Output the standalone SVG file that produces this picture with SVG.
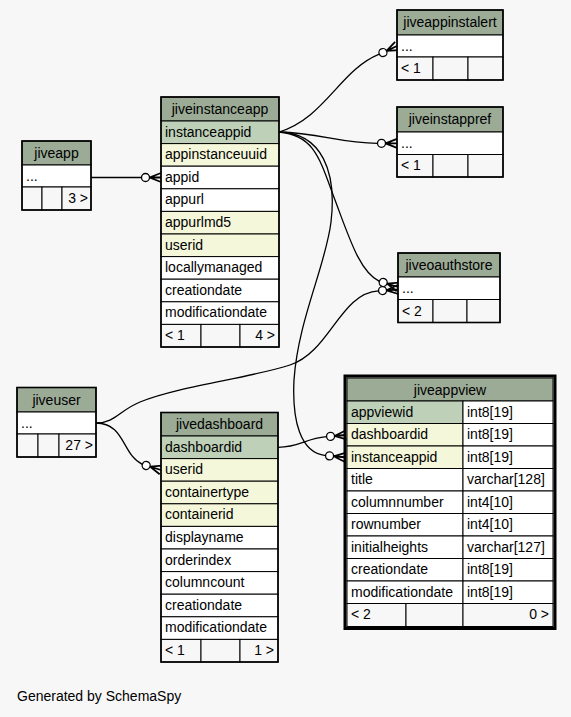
<svg xmlns="http://www.w3.org/2000/svg" xmlns:xlink="http://www.w3.org/1999/xlink" width="571" height="717" viewBox="0 0 571 717">
<style>
.hd{fill:#9bab96;stroke:#000;stroke-width:1}
.pk{fill:#bed1b8;stroke:#000;stroke-width:1}
.fk{fill:#f4f7da;stroke:#000;stroke-width:1}
.wt{fill:#ffffff;stroke:#000;stroke-width:1}
.ft{fill:#f7f7f7;stroke:#000;stroke-width:1}
.ob{fill:none;stroke:#000;stroke-width:1.6}
.t{font-family:"Liberation Sans",Helvetica,Arial,sans-serif;font-size:14px;fill:#000}
.c{text-anchor:middle}
.r{text-anchor:end}
.edge{fill:none;stroke:#000;stroke-width:1.3}
</style>
<defs>
<g id="cf">
<circle cx="-15.5" cy="0" r="4" fill="#fff" stroke="#000" stroke-width="1.3"/>
<path d="M-11.5,0 L0,-4.5 M-11.5,0 L0,4.5 M-11.5,0 L0,0" fill="none" stroke="#000" stroke-width="1.8"/>
</g>
</defs>
<rect x="0" y="0" width="571" height="717" fill="#f7f7f7"/>

<g id="edges">
<path class="edge" d="M91,177.5 L141.5,177.5"/>
<use xlink:href="#cf" href="#cf" transform="translate(161,177.5)"/>
<path class="edge" d="M279,132 C325,118 340,70 379.3,54.2"/>
<use xlink:href="#cf" href="#cf" transform="translate(397,46) rotate(-25)"/>
<path class="edge" d="M279,132 C320,133 340,143.3 377.5,143.3"/>
<use xlink:href="#cf" href="#cf" transform="translate(397,143.3)"/>
<path class="edge" d="M279,132 C315,135 320,160 335,200 C350,240 360,272 379.36,281.3"/>
<use xlink:href="#cf" href="#cf" transform="translate(398,287) rotate(17)"/>
<path class="edge" d="M96,423 C115,423 120,410 140,402 C180,386 250,378 290,365 C330,352 340,293 378.55,290.86"/>
<use xlink:href="#cf" href="#cf" transform="translate(398,289.5) rotate(-4)"/>
<path class="edge" d="M96,423 C125,423 122,455 142.36,464.3"/>
<use xlink:href="#cf" href="#cf" transform="translate(161,470) rotate(17)"/>
<path class="edge" d="M278,447.3 C300,447.3 305,438.5 326.58,436.7"/>
<use xlink:href="#cf" href="#cf" transform="translate(346,435) rotate(-5)"/>
<path class="edge" d="M279,132 C322,133 337,172 331,222 C326,265 298,320 294,380 C292,420 300,453 325.58,455.55"/>
<use xlink:href="#cf" href="#cf" transform="translate(345,457.25) rotate(5)"/>
</g>

<g id="jiveapp">
<rect class="hd" x="22" y="141" width="69" height="24"/>
<rect class="wt" x="22" y="165" width="69" height="22"/>
<rect class="ft" x="22" y="187" width="20" height="23"/>
<rect class="ft" x="42" y="187" width="20" height="23"/>
<rect class="ft" x="62" y="187" width="29" height="23"/>
<rect class="ob" x="22" y="141" width="69" height="69"/>
<text class="t c" x="56.5" y="157.5">jiveapp</text>
<text class="t" x="26" y="180.5">...</text>
<text class="t r" x="88" y="203">3 &gt;</text>
</g>

<g id="jiveinstanceapp">
<rect class="hd" x="161" y="97" width="118" height="24"/>
<rect class="pk" x="161" y="121" width="118" height="22.6"/>
<rect class="fk" x="161" y="143.6" width="118" height="22.6"/>
<rect class="wt" x="161" y="166.2" width="118" height="22.6"/>
<rect class="wt" x="161" y="188.8" width="118" height="22.6"/>
<rect class="fk" x="161" y="211.4" width="118" height="22.6"/>
<rect class="fk" x="161" y="234" width="118" height="22.6"/>
<rect class="wt" x="161" y="256.6" width="118" height="22.6"/>
<rect class="wt" x="161" y="279.2" width="118" height="22.6"/>
<rect class="wt" x="161" y="301.8" width="118" height="22.6"/>
<rect class="ft" x="161" y="324.4" width="40" height="22.6"/>
<rect class="ft" x="201" y="324.4" width="39" height="22.6"/>
<rect class="ft" x="240" y="324.4" width="39" height="22.6"/>
<rect class="ob" x="161" y="97" width="118" height="250"/>
<text class="t c" x="220" y="113.5">jiveinstanceapp</text>
<text class="t" x="165" y="136.5">instanceappid</text>
<text class="t" x="165" y="159.1">appinstanceuuid</text>
<text class="t" x="165" y="181.7">appid</text>
<text class="t" x="165" y="204.3">appurl</text>
<text class="t" x="165" y="226.9">appurlmd5</text>
<text class="t" x="165" y="249.5">userid</text>
<text class="t" x="165" y="272.1">locallymanaged</text>
<text class="t" x="165" y="294.7">creationdate</text>
<text class="t" x="165" y="317.3">modificationdate</text>
<text class="t" x="165" y="339.9">&lt; 1</text>
<text class="t r" x="275" y="339.9">4 &gt;</text>
</g>

<g id="jiveappinstalert">
<rect class="hd" x="397" y="10" width="106" height="25"/>
<rect class="wt" x="397" y="35" width="106" height="22"/>
<rect class="ft" x="397" y="57" width="36" height="23"/>
<rect class="ft" x="433" y="57" width="35" height="23"/>
<rect class="ft" x="468" y="57" width="35" height="23"/>
<rect class="ob" x="397" y="10" width="106" height="70"/>
<text class="t c" x="450" y="27">jiveappinstalert</text>
<text class="t" x="401" y="50.5">...</text>
<text class="t" x="401" y="73">&lt; 1</text>
</g>

<g id="jiveinstappref">
<rect class="hd" x="397" y="107" width="106" height="25"/>
<rect class="wt" x="397" y="132" width="106" height="22.5"/>
<rect class="ft" x="397" y="154.5" width="36" height="22.5"/>
<rect class="ft" x="433" y="154.5" width="35" height="22.5"/>
<rect class="ft" x="468" y="154.5" width="35" height="22.5"/>
<rect class="ob" x="397" y="107" width="106" height="70"/>
<text class="t c" x="450" y="124">jiveinstappref</text>
<text class="t" x="401" y="147.5">...</text>
<text class="t" x="401" y="170">&lt; 1</text>
</g>

<g id="jiveoauthstore">
<rect class="hd" x="398" y="253" width="102" height="24"/>
<rect class="wt" x="398" y="277" width="102" height="22.5"/>
<rect class="ft" x="398" y="299.5" width="35" height="23"/>
<rect class="ft" x="433" y="299.5" width="34" height="23"/>
<rect class="ft" x="467" y="299.5" width="33" height="23"/>
<rect class="ob" x="398" y="253" width="102" height="69.5"/>
<text class="t c" x="449" y="270">jiveoauthstore</text>
<text class="t" x="402" y="292.5">...</text>
<text class="t" x="402" y="315.5">&lt; 2</text>
</g>

<g id="jiveuser">
<rect class="hd" x="17" y="387.5" width="79" height="24.5"/>
<rect class="wt" x="17" y="412" width="79" height="22"/>
<rect class="ft" x="17" y="434" width="21" height="23"/>
<rect class="ft" x="38" y="434" width="21" height="23"/>
<rect class="ft" x="59" y="434" width="37" height="23"/>
<rect class="ob" x="17" y="387.5" width="79" height="69.5"/>
<text class="t c" x="56.5" y="404.5">jiveuser</text>
<text class="t" x="21" y="427.5">...</text>
<text class="t r" x="93" y="450">27 &gt;</text>
</g>

<g id="jivedashboard">
<rect class="hd" x="161" y="412.5" width="117" height="23.5"/>
<rect class="pk" x="161" y="436" width="117" height="22.6"/>
<rect class="fk" x="161" y="458.6" width="117" height="22.6"/>
<rect class="fk" x="161" y="481.2" width="117" height="22.6"/>
<rect class="fk" x="161" y="503.8" width="117" height="22.6"/>
<rect class="wt" x="161" y="526.4" width="117" height="22.6"/>
<rect class="wt" x="161" y="549" width="117" height="22.6"/>
<rect class="wt" x="161" y="571.6" width="117" height="22.6"/>
<rect class="wt" x="161" y="594.2" width="117" height="22.6"/>
<rect class="wt" x="161" y="616.8" width="117" height="22.6"/>
<rect class="ft" x="161" y="639.4" width="40" height="22.6"/>
<rect class="ft" x="201" y="639.4" width="39" height="22.6"/>
<rect class="ft" x="240" y="639.4" width="38" height="22.6"/>
<rect class="ob" x="161" y="412.5" width="117" height="249.5"/>
<text class="t c" x="219.5" y="429">jivedashboard</text>
<text class="t" x="165" y="451.5">dashboardid</text>
<text class="t" x="165" y="474.1">userid</text>
<text class="t" x="165" y="496.7">containertype</text>
<text class="t" x="165" y="519.3">containerid</text>
<text class="t" x="165" y="541.9">displayname</text>
<text class="t" x="165" y="564.5">orderindex</text>
<text class="t" x="165" y="587.1">columncount</text>
<text class="t" x="165" y="609.7">creationdate</text>
<text class="t" x="165" y="632.3">modificationdate</text>
<text class="t" x="165" y="654.9">&lt; 1</text>
<text class="t r" x="274" y="654.9">1 &gt;</text>
</g>

<g id="jiveappview">
<rect class="hd" x="347" y="378" width="206" height="23"/>
<rect class="pk" x="347" y="401" width="116" height="22.5"/>
<rect class="wt" x="463" y="401" width="90" height="22.5"/>
<rect class="fk" x="347" y="423.5" width="116" height="22.5"/>
<rect class="wt" x="463" y="423.5" width="90" height="22.5"/>
<rect class="fk" x="347" y="446" width="116" height="22.5"/>
<rect class="wt" x="463" y="446" width="90" height="22.5"/>
<rect class="wt" x="347" y="468.5" width="116" height="22.5"/>
<rect class="wt" x="463" y="468.5" width="90" height="22.5"/>
<rect class="wt" x="347" y="491" width="116" height="22.5"/>
<rect class="wt" x="463" y="491" width="90" height="22.5"/>
<rect class="wt" x="347" y="513.5" width="116" height="22.5"/>
<rect class="wt" x="463" y="513.5" width="90" height="22.5"/>
<rect class="wt" x="347" y="536" width="116" height="22.5"/>
<rect class="wt" x="463" y="536" width="90" height="22.5"/>
<rect class="wt" x="347" y="558.5" width="116" height="22.5"/>
<rect class="wt" x="463" y="558.5" width="90" height="22.5"/>
<rect class="wt" x="347" y="581" width="116" height="22.5"/>
<rect class="wt" x="463" y="581" width="90" height="22.5"/>
<rect class="ft" x="347" y="603.5" width="59" height="23"/>
<rect class="ft" x="406" y="603.5" width="57" height="23"/>
<rect class="ft" x="463" y="603.5" width="90" height="23"/>
<rect x="345" y="376" width="210" height="252.5" fill="none" stroke="#000" stroke-width="3"/>
<text class="t c" x="450" y="395">jiveappview</text>
<text class="t" x="351" y="416.5">appviewid</text>
<text class="t" x="467" y="416.5">int8[19]</text>
<text class="t" x="351" y="439">dashboardid</text>
<text class="t" x="467" y="439">int8[19]</text>
<text class="t" x="351" y="461.5">instanceappid</text>
<text class="t" x="467" y="461.5">int8[19]</text>
<text class="t" x="351" y="484">title</text>
<text class="t" x="467" y="484">varchar[128]</text>
<text class="t" x="351" y="506.5">columnnumber</text>
<text class="t" x="467" y="506.5">int4[10]</text>
<text class="t" x="351" y="529">rownumber</text>
<text class="t" x="467" y="529">int4[10]</text>
<text class="t" x="351" y="551.5">initialheights</text>
<text class="t" x="467" y="551.5">varchar[127]</text>
<text class="t" x="351" y="574">creationdate</text>
<text class="t" x="467" y="574">int8[19]</text>
<text class="t" x="351" y="596.5">modificationdate</text>
<text class="t" x="467" y="596.5">int8[19]</text>
<text class="t" x="351" y="619">&lt; 2</text>
<text class="t r" x="549" y="619">0 &gt;</text>
</g>

<text class="t" x="17" y="701">Generated by SchemaSpy</text>
</svg>
